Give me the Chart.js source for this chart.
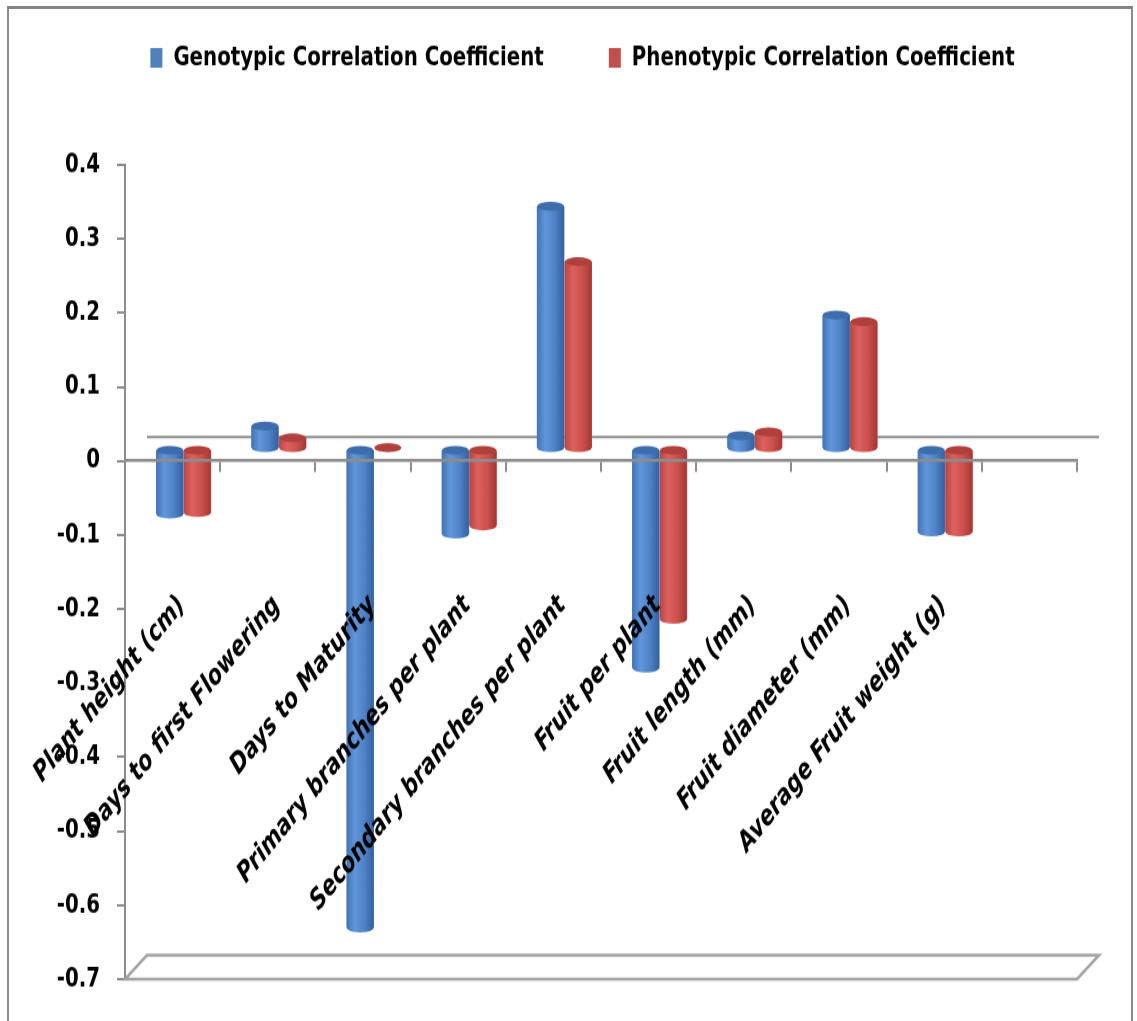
<!DOCTYPE html>
<html>
<head>
<meta charset="utf-8">
<script src="https://cdn.jsdelivr.net/npm/chart.js@4.4.1/dist/chart.umd.min.js"></script>
<style>
  html, body { margin: 0; padding: 0; background: #fff; overflow: hidden; }
  #page { position: relative; width: 1137px; height: 1021px; overflow: hidden; background: #fff; }
  #frame { position: absolute; left: 7px; top: 6px; width: 1126px; height: 1060px; box-sizing: border-box;
           border-left: 2px solid #8c8c8c; border-right: 2px solid #8c8c8c; border-top: 3px solid #848484; }
  /* the chart is laid out on a shorter canvas and stretched to full height */
  #stage { position: absolute; left: 0; top: 0; width: 1137px; height: 830px;
           transform: scaleY(1.2301); transform-origin: 0 0; }
</style>
</head>
<body>
<div id="page">
  <div id="frame"></div>
  <div id="stage"><canvas id="c" width="1137" height="830"></canvas></div>
</div>
<script>
// ---- data ----
const categories = [
  'Plant height (cm)',
  'Days to first Flowering',
  'Days to Maturity',
  'Primary branches per plant',
  'Secondary branches per plant',
  'Fruit per plant',
  'Fruit length (mm)',
  'Fruit diameter (mm)',
  'Average Fruit weight (g)',
  ''
];
const seriesNames = ['Genotypic Correlation Coefficient', 'Phenotypic Correlation Coefficient'];
const genotypic  = [-0.088, 0.031, -0.647, -0.115, 0.328, -0.296, 0.018, 0.181, -0.112, null];
const phenotypic = [-0.086, 0.015,  0.002, -0.104, 0.253, -0.230, 0.023, 0.172, -0.112, null];
const yMin = -0.7;
const yMax = 0.4;
const yStep = 0.1;

// ---- styling ----
const FONT = "'Liberation Sans Narrow', 'DejaVu Sans Condensed', 'Liberation Sans', sans-serif";
const AXIS_GREY = '#8c8c8c';
const DEPTH_X = 22;      // oblique depth of floor / back wall
const DEPTH_Y = -19.5;
const LEGEND_GAP = 66;   // extra room between legend and plot
const LEGEND_SHIFT = 24; // nudge the centred legend to the right
const CAP_RY = 3.6;      // vertical radius of the cylinder end caps

const shades = [
  { edgeL: '#4474b6', light: '#6196da', mid: '#4e83c8', edgeR: '#3461a0', cap: '#3f6cab' },
  { edgeL: '#b94643', light: '#dd625e', mid: '#cc514d', edgeR: '#a43835', cap: '#b0403d' }
];

function drawCylinder(ctx, x, y, base, width, c) {
  const rx = width / 2 - 0.5;
  const top = Math.min(y, base), bot = Math.max(y, base);
  const l = x - rx, r = x + rx;
  const g = ctx.createLinearGradient(l, 0, r, 0);
  g.addColorStop(0, c.edgeL);
  g.addColorStop(0.3, c.light);
  g.addColorStop(0.65, c.mid);
  g.addColorStop(1, c.edgeR);
  ctx.fillStyle = g;
  ctx.beginPath();
  ctx.moveTo(l, top);
  ctx.lineTo(l, bot);
  ctx.ellipse(x, bot, rx, CAP_RY, 0, Math.PI, 0, true);
  ctx.lineTo(r, top);
  ctx.closePath();
  ctx.fill();
  ctx.fillStyle = c.cap;
  ctx.beginPath();
  ctx.ellipse(x, top, rx, CAP_RY, 0, 0, Math.PI * 2);
  ctx.fill();
}

// room below the legend, and a small horizontal nudge of it
const legendSpacer = {
  id: 'legendSpacer',
  beforeInit(chart) {
    const fit = chart.legend.fit;
    chart.legend.fit = function () { fit.call(this); this.height += LEGEND_GAP; };
  },
  afterLayout(chart) {
    chart.legend.left += LEGEND_SHIFT;
    chart.legend.right += LEGEND_SHIFT;
  }
};

// back wall line, floor, and cylinders placed half-way into the depth
const cylinders = {
  id: 'cylinders',
  beforeDatasetsDraw(chart) {
    const { ctx, chartArea, scales } = chart;
    const y0 = scales.y.getPixelForValue(0);
    const yb = scales.y.getPixelForValue(scales.y.min);
    ctx.save();
    ctx.strokeStyle = AXIS_GREY;
    ctx.lineWidth = 2;
    ctx.beginPath();
    ctx.moveTo(chartArea.left + DEPTH_X, y0 + DEPTH_Y);
    ctx.lineTo(chartArea.right + DEPTH_X, y0 + DEPTH_Y);
    ctx.stroke();
    ctx.strokeStyle = '#a3a3a3';
    ctx.lineWidth = 2.5;
    ctx.beginPath();
    ctx.moveTo(chartArea.left, yb);
    ctx.lineTo(chartArea.right, yb);
    ctx.lineTo(chartArea.right + DEPTH_X, yb + DEPTH_Y);
    ctx.lineTo(chartArea.left + DEPTH_X, yb + DEPTH_Y);
    ctx.closePath();
    ctx.stroke();
    ctx.restore();
    ctx.save();
    ctx.translate(DEPTH_X / 2, DEPTH_Y / 2);
  },
  afterDatasetsDraw(chart) {
    const ctx = chart.ctx;
    chart.data.datasets.forEach((ds, di) => {
      const meta = chart.getDatasetMeta(di);
      meta.data.forEach((bar, i) => {
        if (ds.data[i] === null) return;
        const p = bar.getProps(['x', 'y', 'base', 'width'], true);
        drawCylinder(ctx, p.x, p.y, p.base, p.width, shades[di]);
      });
    });
    ctx.restore();
  }
};

function fmtTick(v) {
  const s = Number(v).toFixed(1);
  return (s === '0.0' || s === '-0.0') ? '0' : s;
}

new Chart(document.getElementById('c'), {
  type: 'bar',
  data: {
    labels: categories,
    datasets: [
      { label: seriesNames[0], data: genotypic, backgroundColor: '#4F81BD', borderWidth: 0 },
      { label: seriesNames[1], data: phenotypic, backgroundColor: '#C0504D', borderWidth: 0 }
    ]
  },
  options: {
    responsive: false,
    animation: false,
    devicePixelRatio: 1,
    layout: { padding: { left: 40, right: 60, top: -29, bottom: 34 }, autoPadding: false },
    datasets: { bar: { categoryPercentage: 0.58, barPercentage: 1.0 } },
    plugins: {
      legend: {
        position: 'top',
        labels: {
          boxWidth: 12, boxHeight: 16, padding: 65, color: '#000',
          font: { family: FONT, size: 22, weight: 'bold' }
        }
      },
      tooltip: { enabled: false }
    },
    scales: {
      x: {
        position: { y: 0 },
        offset: true,
        grid: { z: 1, drawOnChartArea: false, drawTicks: true, tickLength: 8, color: AXIS_GREY, lineWidth: 2, offset: true },
        border: { z: 1, display: true, color: AXIS_GREY, width: 2.5 },
        ticks: {
          z: 1, autoSkip: false, minRotation: 45, maxRotation: 45, padding: 96, labelOffset: 9,
          color: '#000', font: { family: FONT, size: 23, weight: 'bold', style: 'italic' }
        },
        afterFit(scale) {
          scale.height = 0;
          scale.paddingLeft = scale.paddingRight = scale.paddingTop = scale.paddingBottom = 0;
        }
      },
      y: {
        min: yMin, max: yMax,
        grid: { drawOnChartArea: false, drawTicks: true, tickLength: 8, color: AXIS_GREY, lineWidth: 2 },
        border: { display: true, color: AXIS_GREY, width: 2 },
        ticks: {
          stepSize: yStep, padding: 17, color: '#000',
          font: { family: FONT, size: 22, weight: 'bold' },
          callback: fmtTick
        },
        afterFit(scale) {
          scale.width = 85;
          scale.paddingTop = scale.paddingBottom = 0;
        }
      }
    }
  },
  plugins: [legendSpacer, cylinders]
});
</script>
</body>
</html>
